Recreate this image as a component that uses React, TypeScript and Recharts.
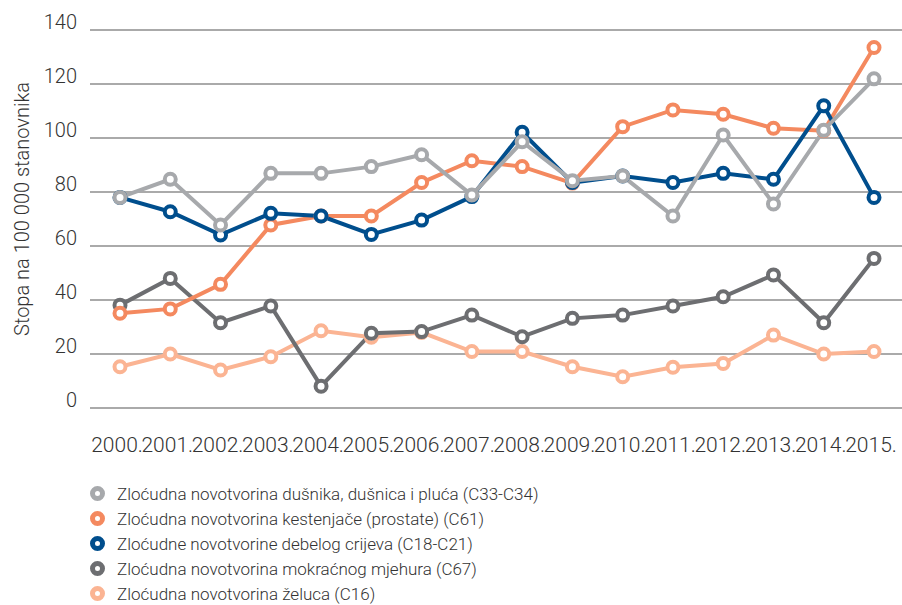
import React from 'react'
import { LineChart, Line, XAxis, YAxis, CartesianGrid } from 'recharts'

const years = ['2000', '2001', '2002', '2003', '2004', '2005', '2006', '2007', '2008', '2009', '2010', '2011', '2012', '2013', '2014', '2015']

const pluca = [78, 84.7, 67.8, 86.9, 86.9, 89.4, 93.8, 78.9, 98.6, 84.2, 85.9, 71.1, 101.1, 75.6, 102.9, 121.9]
const prostata = [35.1, 36.7, 45.8, 67.8, 71.1, 71.1, 83.5, 91.6, 89.4, 83.3, 104.2, 110.4, 108.8, 103.6, 102.7, 133.5]
const crijevo = [78, 72.7, 64.1, 72.1, 71.1, 64.3, 69.6, 78.3, 102.1, 83.5, 85.9, 83.5, 86.9, 84.7, 111.9, 78]
const mjehur = [38.1, 48, 31.6, 37.8, 8.1, 27.7, 28.3, 34.4, 26.4, 33.2, 34.4, 37.8, 41.2, 49.3, 31.6, 55.4]
const zeludac = [15.3, 20, 14.1, 19, 28.6, 26.2, 28, 20.9, 20.9, 15.3, 11.6, 15.1, 16.5, 27, 20, 20.9]

const yTicks = [0, 20, 40, 60, 80, 100, 120, 140]

const series = [
  { key: 'pluca', name: 'Zloćudna novotvorina dušnika, dušnica i pluća (C33-C34)', color: '#a7a9ac' },
  { key: 'prostata', name: 'Zloćudna novotvorina kestenjače (prostate) (C61)', color: '#f4895f' },
  { key: 'crijevo', name: 'Zloćudne novotvorine debelog crijeva (C18-C21)', color: '#004e8d' },
  { key: 'mjehur', name: 'Zloćudna novotvorina mokraćnog mjehura (C67)', color: '#6d6e71' },
  { key: 'zeludac', name: 'Zloćudna novotvorina želuca (C16)', color: '#fbb493' },
]

// drawing order: last one ends up on top
const drawOrder = ['zeludac', 'mjehur', 'prostata', 'crijevo', 'pluca']

const data = years.map((y, i) => ({
  year: y + '.',
  pluca: pluca[i],
  prostata: prostata[i],
  crijevo: crijevo[i],
  mjehur: mjehur[i],
  zeludac: zeludac[i],
}))

const font = 'Roboto, sans-serif'
const textColor = '#333'

const YTick = (props: any) => {
  const { x, y, payload } = props
  return (
    <text x={x} y={y - 1} textAnchor="end" fontSize={20} fontWeight={300} fill={textColor} fontFamily={font}>
      {payload.value}
    </text>
  )
}

const XTick = (props: any) => {
  const { x, y, payload } = props
  return (
    <text x={x - 3} y={y} dy="0.71em" textAnchor="middle" fontSize={21} fontWeight={300}
      fill={textColor} fontFamily={font}>
      {payload.value}
    </text>
  )
}

const YLabel = (props: any) => {
  const { viewBox } = props
  const cx = 22
  const cy = viewBox.y + viewBox.height / 2 - 10
  return (
    <text x={cx} y={cy} transform={`rotate(-90, ${cx}, ${cy})`} textAnchor="middle" dominantBaseline="central"
      fontSize={20} fontWeight={300} fill={textColor} fontFamily={font}>
      Stopa na 100 000 stanovnika
    </text>
  )
}

const App = () => {
  return (
    <div style={{ position: 'absolute', left: 0, top: 0, width: 902, height: 605, background: '#fff', fontFamily: font }}>
      <LineChart width={902} height={460} data={data} margin={{ top: 30, right: 0, left: 0, bottom: 0 }}>
        <CartesianGrid vertical={false} stroke="#8e8e8e" strokeWidth={1.5} />
        <XAxis dataKey="year" axisLine={false} tickLine={false} tickSize={0} tickMargin={29} height={52}
          interval={0} padding={{ left: 30, right: 28 }} tick={<XTick />} />
        <YAxis width={90} domain={[0, 140]} ticks={yTicks} axisLine={false} tickLine={false} tick={<YTick />}
          tickMargin={13} tickSize={0} label={<YLabel />} />
        {drawOrder.map((k) => {
          const s = series.find((d) => d.key === k)!
          return (
            <Line key={k} dataKey={k} name={s.name} stroke={s.color} strokeWidth={4} isAnimationActive={false}
              dot={{ r: 5.5, strokeWidth: 4, fill: '#fff', stroke: s.color }} activeDot={false} />
          )
        })}
      </LineChart>
      <div style={{ position: 'absolute', left: 90, top: 481 }}>
        {series.map((s) => (
          <div key={s.key} style={{ display: 'flex', alignItems: 'center', height: 25, fontSize: 17, fontWeight: 300,
            color: textColor }}>
            <svg width={15} height={15} style={{ marginRight: 12 }}>
              <circle cx={7.5} cy={7.5} r={5} fill="#fff" stroke={s.color} strokeWidth={5} />
            </svg>
            <span>{s.name}</span>
          </div>
        ))}
      </div>
    </div>
  )
}

export default App
